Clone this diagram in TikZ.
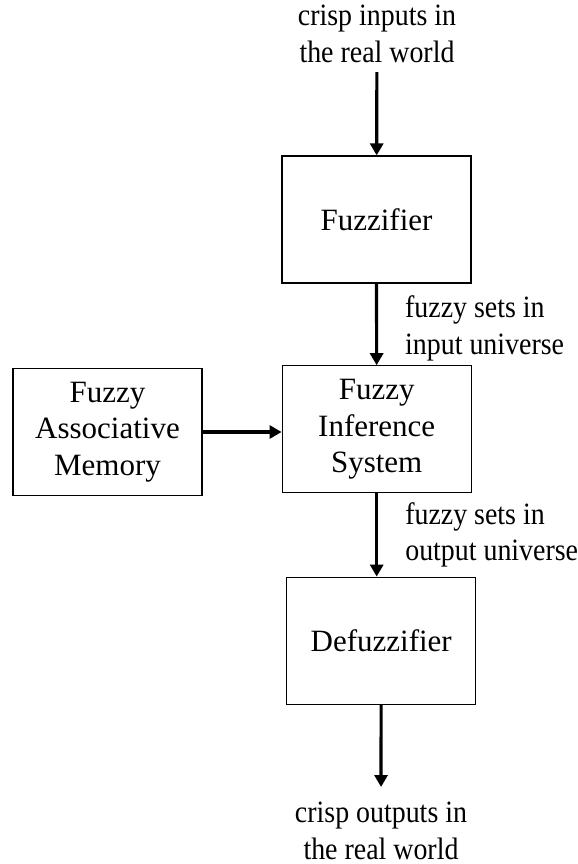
\documentclass[tikz,border=0pt]{standalone}
\usepackage{fontspec}
\setmainfont{Liberation Serif}
\newfontfamily\narrowfont{Liberation Serif}[FakeStretch=0.9]
\usetikzlibrary{arrows.meta}

\tikzset{
  block/.style={draw, line width=0.6pt, minimum width=94.5pt, minimum height=63.5pt, align=center, inner sep=0pt},
  flow/.style={line width=1.6pt, -{Triangle[length=6pt,width=6.5pt]}},
  note/.style={font=\narrowfont\fontsize{15.5}{18.3}\selectfont},
  lbl/.style={note, align=left, inner sep=0pt, anchor=west, xshift=13.5pt},
}

\begin{document}
\begin{tikzpicture}[x=0.5pt, y=-0.5pt, font=\fontsize{15.5}{18.3}\selectfont]
    \useasboundingbox (0,0) rectangle (578,864);
    % the four blocks
    \node[block] (fuzz) at (376.5,219.5) {Fuzzifier};
    \node[block] (fis) at (376.7,429.3) {Fuzzy\\Inference\\System};
    \node[block] (fam) at (107.5,432) {Fuzzy\\Associative\\Memory};
    \node[block] (defuzz) at (381.2,640.7) {Defuzzifier};
    % crisp values going in and out
    \node[note, align=center, inner xsep=0pt, inner ysep=4.5pt, anchor=south] (in) at (377,72) {crisp inputs in\\the real world};
    \node[note, align=center, inner xsep=0pt, inner ysep=7.5pt, anchor=north] (out) at (381,787) {crisp outputs in\\the real world};
    \draw[flow] (in) -- (fuzz);
    \draw[flow] (fuzz) -- node[lbl, yshift=-2pt] {fuzzy sets in\\input universe} (fis);
    \draw[flow] (fam) -- (fam -| fis.west);
    \draw[flow] (fis) -- node[lbl] {fuzzy sets in\\output universe} (fis |- defuzz.north);
    \draw[flow] (defuzz) -- (out);
\end{tikzpicture}
\end{document}
